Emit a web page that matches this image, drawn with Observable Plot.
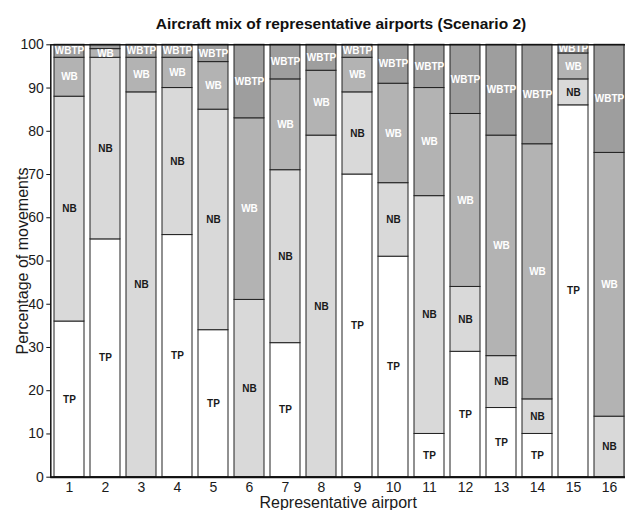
<!DOCTYPE html>
<html><head><meta charset="utf-8">
<script src="https://cdn.jsdelivr.net/npm/d3@7"></script>
<script src="https://cdn.jsdelivr.net/npm/@observablehq/plot@0.6"></script>
<style>
body{margin:0;background:#fff;font-family:"Liberation Sans",Arial,sans-serif;}
#title{width:625px;height:36px;box-sizing:border-box;padding-top:14px;padding-left:57px;line-height:20px;font-size:15.5px;font-weight:bold;text-align:center;color:#111;}
</style></head><body>
<div id="title">Aircraft mix of representative airports (Scenario 2)</div>
<div id="chart"></div>
<script>
const airports = [1,2,3,4,5,6,7,8,9,10,11,12,13,14,15,16];
const types = ["TP","NB","WB","WBTP"];
const tp   = [36,55, 0,56,34, 0,31, 0,70,51,10,29,16,10,86, 0];
const nb   = [52,42,89,34,51,41,40,79,19,17,55,15,12, 8, 6,14];
const wb   = [ 9, 2, 8, 7,11,42,21,15, 8,23,25,40,51,59, 6,61];
const wbtp = [ 3, 1, 3, 3, 4,17, 8, 6, 3, 9,10,16,21,23, 2,25];
const yTicks = [0,10,20,30,40,50,60,70,80,90,100];
const colors = ["#ffffff","#d9d9d9","#b3b3b3","#9e9e9e"];
const darkLabels = ["TP","NB"];

const series = [tp, nb, wb, wbtp];
const rows = airports.flatMap((a, i) => types.map((t, j) => ({airport: a, type: t, value: series[j][i]})));

const chart = Plot.plot({
  width: 625, height: 474,
  marginTop: 8.3, marginBottom: 33.3, marginLeft: 50.3, marginRight: 0,
  style: {fontFamily: "'Liberation Sans', Arial, sans-serif", background: "#fff", color: "#1a1a1a"},
  x: {type: "band", domain: airports, range: [50.3, 627.3], paddingInner: 0.18, paddingOuter: 0.09, label: null},
  y: {domain: [0, 100], label: null},
  color: {domain: types, range: colors},
  marks: [
    Plot.barY(rows, {x: "airport", y: "value", fill: "type", stroke: "#222", strokeWidth: 1}),
    Plot.text(rows, Plot.stackY({x: "airport", y: "value",
      text: d => (d.value > 1 && darkLabels.includes(d.type)) ? d.type : null,
      fill: "#1a1a1a", fontWeight: "bold", fontSize: 10})),
    Plot.text(rows, Plot.stackY({x: "airport", y: "value",
      text: d => (d.value > 1 && !darkLabels.includes(d.type)) ? d.type : null,
      fill: "#ffffff", fontWeight: "bold", fontSize: 10})),
    Plot.frame({stroke: "#111", strokeWidth: 1.5}),
    Plot.ruleY([0], {stroke: "#111", strokeWidth: 2}),
    Plot.axisY(yTicks, {tickSize: 4, tickPadding: 3, fontSize: 14, label: null, stroke: "#111"}),
    Plot.axisX({tickSize: 0, tickPadding: 5, fontSize: 14, label: null}),
    Plot.text(["Representative airport"], {frameAnchor: "bottom", lineAnchor: "middle", dy: 26, fontSize: 16, text: d => d}),
    Plot.text(["Percentage of movements"], {frameAnchor: "left", textAnchor: "middle", lineAnchor: "middle", rotate: -90, dx: -28, fontSize: 16, text: d => d})
  ]
});
document.getElementById("chart").appendChild(chart);
</script>
</body></html>
